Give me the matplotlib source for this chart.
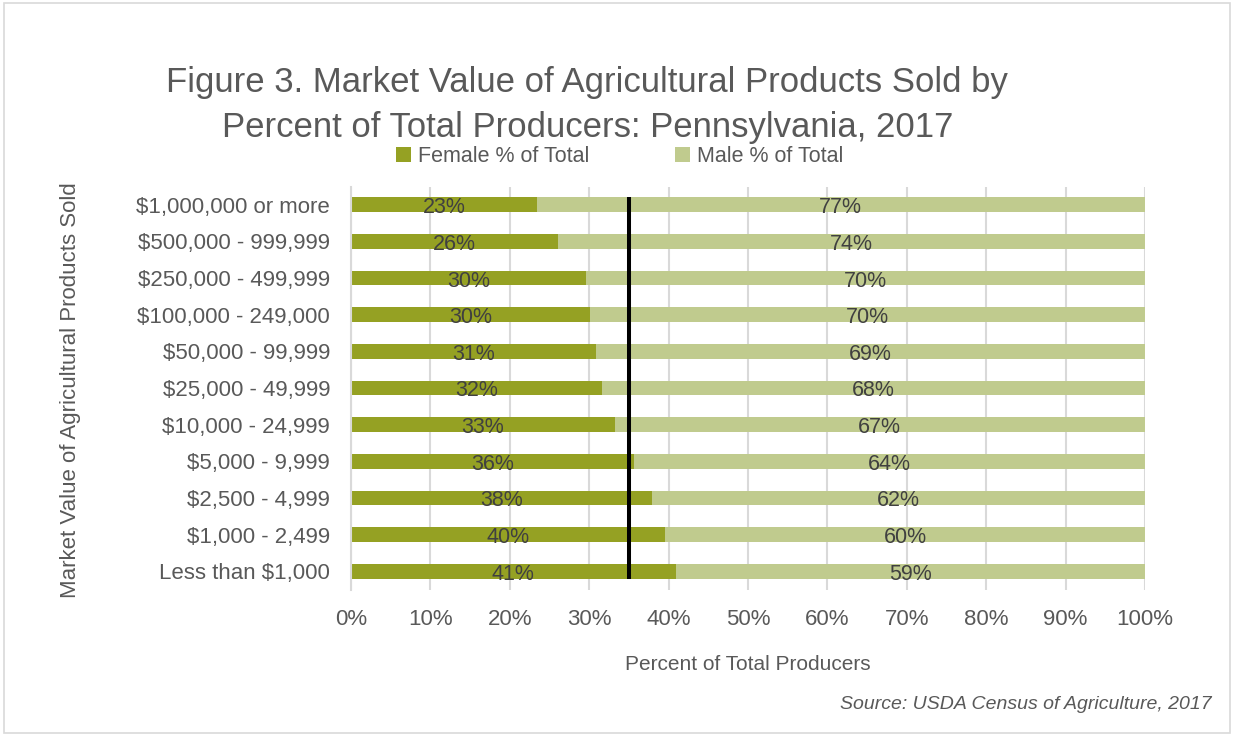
import matplotlib.pyplot as plt
from matplotlib.patches import Rectangle

# Sales classes, listed bottom to top as they appear on the chart
categories = [
    "Less than $1,000",
    "$1,000 - 2,499",
    "$2,500 - 4,999",
    "$5,000 - 9,999",
    "$10,000 - 24,999",
    "$25,000 - 49,999",
    "$50,000 - 99,999",
    "$100,000 - 249,000",
    "$250,000 - 499,999",
    "$500,000 - 999,999",
    "$1,000,000 or more",
]
female_pct = [40.9, 39.6, 37.9, 35.6, 33.2, 31.6, 30.9, 30.1, 29.6, 26.1, 23.4]
male_pct = [100 - f for f in female_pct]
female_overall = 35.0
xticks = [0, 10, 20, 30, 40, 50, 60, 70, 80, 90, 100]

female_color = "#95a123"
male_color = "#c0cb8e"
text_grey = "#595959"
label_grey = "#404040"

plt.rcParams["font.family"] = ["Liberation Sans", "DejaVu Sans"]

fig = plt.figure(figsize=(12.34, 7.36), dpi=100)
ax = fig.add_axes([0.2844, 0.199, 0.6434, 0.5476])

ypos = list(range(len(categories)))
bar_h = 0.4
ax.barh(ypos, female_pct, height=bar_h, color=female_color, label="Female % of Total", zorder=2)
ax.barh(ypos, male_pct, left=female_pct, height=bar_h, color=male_color, label="Male % of Total", zorder=2)

# percentage labels centred in each segment
for y, f, m in zip(ypos, female_pct, male_pct):
    ax.text(f / 2, y - 0.08, f"{f:.0f}%", ha="center", va="center",
            fontsize=15.5, color=label_grey, zorder=4)
    ax.text(f + m / 2, y - 0.08, f"{m:.0f}%", ha="center", va="center",
            fontsize=15.5, color=label_grey, zorder=4)

# overall female share across all producers
ax.plot([female_overall, female_overall], [-bar_h / 2, len(categories) - 1 + bar_h / 2],
        color="black", lw=2.9, zorder=3, solid_capstyle="butt")

ax.set_xlim(0, 100)
ax.set_ylim(-0.5, len(categories) - 0.5)
ax.set_xticks(xticks)
ax.set_xticklabels([f"{t}%" for t in xticks])
ax.set_yticks(ypos)
ax.set_yticklabels(categories)
ax.tick_params(axis="both", length=0, labelsize=16, labelcolor=text_grey)
ax.tick_params(axis="x", pad=14)
ax.tick_params(axis="y", pad=15)
ax.grid(axis="x", color="#d9d9d9", lw=1.5, zorder=0)
for side in ["top", "right", "bottom"]:
    ax.spines[side].set_visible(False)
ax.spines["left"].set_color("#d9d9d9")
ax.spines["left"].set_linewidth(1.5)

ax.set_xlabel("Percent of Total Producers", fontsize=15, color=text_grey, labelpad=18)
fig.text(0.057, 0.47, "Market Value of Agricultural Products Sold", rotation=90,
         ha="center", va="center", fontsize=16, color=text_grey)

fig.text(0.476, 0.857, "Figure 3. Market Value of Agricultural Products Sold by\n"
         "Percent of Total Producers: Pennsylvania, 2017",
         ha="center", va="center", fontsize=25, color=text_grey, linespacing=1.45)

fig.legend(loc="center", bbox_to_anchor=(0.502, 0.787), ncol=2, frameon=False,
           fontsize=15.5, labelcolor=text_grey, handlelength=0.7, handleheight=0.7,
           handletextpad=0.3, columnspacing=4.0)

fig.text(0.982, 0.043, "Source: USDA Census of Agriculture, 2017", ha="right", va="center",
         fontsize=14, style="italic", color=text_grey)

fig.add_artist(Rectangle((0.003, 0.004), 0.994, 0.992, transform=fig.transFigure,
                         fill=False, edgecolor="#d9d9d9", lw=1.2))

fig.savefig("out.png", dpi=100)
